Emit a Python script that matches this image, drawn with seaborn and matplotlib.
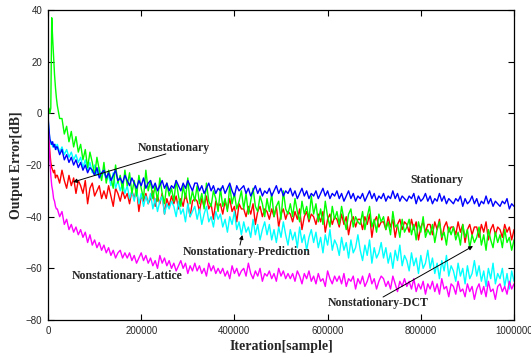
import numpy as np
import pandas as pd
import matplotlib
matplotlib.use("Agg")
import matplotlib.pyplot as plt
import seaborn as sns

# Sample grid: dense at the very start, then every 5000 samples
head_x = [0, 2000, 4000, 6000, 8000, 10000, 12000, 14000, 16000, 18000]
tail_x = list(range(20000, 1000001, 5000))

# Output error [dB]
green_head = [1, 2, 0, 2, 37, 29, 22, 15, 10, 6]
green_tail = [
    3, -2, -2, -8, -5, -11, -7, -13, -9, -15,
    -12, -18, -14, -21, -15, -19, -24, -17, -22, -26,
    -19, -27, -22, -25, -29, -20, -27, -24, -30, -22,
    -28, -23, -31, -26, -32, -24, -29, -33, -22, -30,
    -26, -33, -28, -34, -25, -31, -35, -27, -32, -29,
    -34, -26, -32, -36, -28, -33, -25, -35, -30, -34,
    -28, -35, -31, -37, -27, -34, -36, -30, -33, -38,
    -29, -36, -33, -38, -28, -35, -31, -37, -34, -30,
    -37, -31, -39, -34, -29, -36, -38, -32, -35, -40,
    -33, -38, -31, -40, -36, -34, -41, -30, -37, -39,
    -35, -40, -33, -38, -42, -34, -39, -36, -41, -32,
    -39, -35, -42, -37, -43, -34, -40, -44, -36, -41,
    -38, -43, -36, -41, -45, -39, -37, -44, -40, -42,
    -43, -38, -45, -40, -36, -44, -41, -46, -39, -42,
    -40, -45, -42, -47, -38, -44, -43, -48, -41, -46,
    -44, -41, -47, -43, -49, -42, -46, -40, -48, -45,
    -47, -43, -50, -45, -42, -48, -46, -51, -44, -47,
    -44, -49, -46, -51, -43, -48, -45, -52, -47, -50,
    -48, -44, -51, -47, -53, -45, -49, -52, -46, -50,
    -47, -52, -45, -50, -48, -53, -49,
]

blue_head = [-1, -6, -10, -11, -12, -11, -13, -12, -14, -13]
blue_tail = [
    -13, -16, -14, -18, -16, -19, -17, -20, -18, -21,
    -19, -22, -20, -23, -21, -22, -24, -21, -25, -23,
    -22, -25, -23, -26, -24, -22, -26, -25, -27, -24,
    -26, -28, -25, -27, -29, -26, -28, -25, -29, -27,
    -26, -29, -27, -30, -28, -26, -29, -27, -30, -28,
    -29, -26, -28, -30, -27, -29, -26, -28, -30, -27,
    -27, -30, -28, -31, -29, -27, -30, -28, -31, -29,
    -30, -28, -31, -29, -27, -30, -32, -28, -30, -29,
    -28, -31, -29, -32, -30, -28, -31, -29, -32, -30,
    -31, -29, -32, -30, -28, -31, -29, -32, -30, -31,
    -29, -32, -30, -33, -31, -29, -32, -30, -33, -31,
    -32, -30, -33, -31, -29, -32, -30, -33, -31, -32,
    -30, -33, -31, -34, -32, -30, -33, -31, -34, -32,
    -33, -31, -34, -32, -30, -33, -31, -34, -32, -33,
    -31, -34, -32, -33, -30, -33, -31, -34, -32, -33,
    -34, -32, -33, -31, -35, -32, -34, -33, -31, -34,
    -32, -35, -33, -34, -31, -34, -32, -35, -33, -34,
    -35, -33, -34, -32, -36, -33, -35, -34, -32, -35,
    -33, -36, -34, -35, -32, -35, -33, -36, -34, -35,
    -36, -34, -35, -33, -37, -35, -36,
]

red_head = [-6, -10, -15, -19, -21, -22, -23, -22, -25, -24]
red_tail = [
    -24, -27, -22, -26, -29, -24, -28, -25, -31, -26,
    -28, -31, -26, -35, -29, -27, -32, -30, -28, -33,
    -30, -33, -28, -32, -36, -29, -31, -34, -30, -33,
    -31, -35, -30, -33, -29, -38, -32, -34, -31, -35,
    -33, -30, -36, -32, -35, -31, -39, -33, -36, -32,
    -35, -32, -37, -33, -36, -31, -35, -40, -34, -33,
    -34, -38, -33, -36, -32, -37, -35, -41, -34, -36,
    -35, -39, -34, -37, -33, -38, -36, -42, -35, -37,
    -37, -40, -36, -39, -35, -43, -38, -36, -40, -37,
    -38, -41, -37, -40, -36, -44, -39, -37, -41, -38,
    -39, -42, -38, -41, -37, -45, -40, -38, -42, -39,
    -40, -43, -39, -42, -38, -46, -41, -39, -43, -40,
    -41, -44, -39, -43, -40, -47, -42, -40, -44, -41,
    -41, -45, -40, -43, -39, -48, -42, -40, -44, -42,
    -42, -45, -40, -44, -41, -48, -43, -41, -45, -42,
    -43, -46, -41, -45, -42, -49, -44, -42, -46, -43,
    -43, -47, -42, -45, -41, -49, -44, -42, -46, -44,
    -44, -47, -42, -46, -43, -50, -45, -43, -47, -44,
    -44, -48, -43, -46, -42, -49, -45, -43, -47, -44,
    -45, -48, -43, -46, -44, -49, -45,
]

cyan_head = [-2, -7, -10, -12, -11, -13, -12, -13, -12, -14]
cyan_tail = [
    -12, -15, -13, -16, -14, -17, -15, -18, -16, -19,
    -17, -21, -18, -22, -19, -23, -20, -24, -21, -25,
    -22, -26, -24, -28, -23, -29, -26, -30, -27, -31,
    -28, -33, -30, -34, -29, -35, -31, -36, -32, -35,
    -31, -37, -33, -38, -34, -32, -39, -35, -37, -34,
    -36, -40, -34, -39, -37, -42, -35, -40, -38, -36,
    -41, -37, -43, -39, -36, -42, -40, -44, -38, -41,
    -39, -44, -41, -46, -40, -43, -38, -45, -42, -47,
    -42, -46, -44, -48, -41, -47, -43, -49, -45, -42,
    -47, -43, -49, -45, -50, -44, -48, -42, -47, -51,
    -45, -49, -46, -52, -44, -50, -47, -53, -48, -45,
    -50, -46, -52, -48, -54, -47, -51, -45, -53, -49,
    -51, -55, -48, -53, -50, -56, -49, -54, -52, -47,
    -53, -57, -51, -55, -49, -58, -52, -56, -54, -50,
    -56, -52, -58, -54, -60, -53, -57, -51, -59, -55,
    -57, -61, -54, -59, -56, -62, -55, -60, -58, -53,
    -60, -56, -62, -58, -64, -57, -61, -55, -63, -59,
    -61, -65, -58, -63, -60, -66, -59, -64, -62, -57,
    -63, -59, -65, -61, -67, -60, -64, -58, -66, -62,
    -64, -60, -67, -62, -68, -61, -65,
]

magenta_head = [-4, -10, -18, -24, -28, -30, -33, -34, -36, -37]
magenta_tail = [
    -37, -40, -38, -43, -41, -45, -43, -46, -44, -47,
    -45, -48, -46, -50, -47, -51, -49, -52, -50, -53,
    -51, -54, -52, -55, -53, -56, -54, -53, -56, -54,
    -56, -54, -57, -55, -58, -56, -54, -57, -55, -58,
    -56, -59, -57, -60, -55, -58, -56, -59, -57, -60,
    -58, -61, -59, -57, -60, -58, -62, -59, -61, -58,
    -61, -59, -62, -60, -63, -58, -61, -59, -62, -60,
    -62, -60, -63, -61, -64, -59, -62, -60, -63, -61,
    -60, -63, -58, -62, -64, -61, -63, -60, -65, -62,
    -63, -61, -64, -62, -65, -60, -63, -61, -64, -62,
    -64, -62, -65, -61, -63, -66, -62, -64, -61, -65,
    -63, -66, -62, -65, -64, -67, -61, -64, -66, -63,
    -65, -63, -66, -62, -67, -64, -65, -63, -68, -64,
    -66, -63, -67, -65, -62, -66, -64, -68, -65, -63,
    -64, -67, -65, -68, -63, -66, -69, -65, -67, -64,
    -67, -65, -68, -64, -69, -66, -68, -65, -70, -66,
    -68, -65, -69, -66, -70, -64, -68, -67, -71, -66,
    -67, -70, -65, -69, -68, -71, -66, -69, -67, -72,
    -68, -66, -70, -67, -71, -65, -69, -68, -72, -67,
    -66, -69, -67, -70, -65, -68, -66,
]

# Build one long table (drawing order: red, cyan, green, blue, magenta)
series = [
    ("Nonstationary", red_head + red_tail, "#ff0000"),
    ("Nonstationary-Prediction", cyan_head + cyan_tail, "#00ffff"),
    ("Nonstationary-DCT", green_head + green_tail, "#00ff00"),
    ("Stationary", blue_head + blue_tail, "#0000ff"),
    ("Nonstationary-Lattice", magenta_head + magenta_tail, "#ff00ff"),
]
all_x = head_x + tail_x
frames = []
for name, vals, _ in series:
    n = min(len(vals), len(all_x))
    frames.append(pd.DataFrame({"iteration": all_x[:n], "error": vals[:n], "curve": name}))
df = pd.concat(frames, ignore_index=True)
palette = {name: color for name, _, color in series}

sns.set_style("ticks")
plt.rcParams["font.family"] = ["Liberation Sans", "DejaVu Sans"]

fig = plt.figure(figsize=(5.31, 3.58), dpi=100)
ax = fig.add_axes([0.0904, 0.1061, 0.8776, 0.8659])

sns.lineplot(data=df, x="iteration", y="error", hue="curve", palette=palette,
             hue_order=[s[0] for s in series], lw=1.0, legend=False,
             estimator=None, sort=False, ax=ax)

ax.set_xlim(0, 1000000)
ax.set_ylim(-80, 40)
ax.set_xticks(range(0, 1000001, 200000))
ax.set_xticklabels([str(v) for v in range(0, 1000001, 200000)])
ax.set_yticks(range(-80, 41, 20))
ax.tick_params(direction="in", length=4, width=0.8, labelsize=7,
               top=True, right=True, color="black", pad=4)
for sp in ax.spines.values():
    sp.set_visible(True)
    sp.set_linewidth(0.9)
    sp.set_color("black")

serif = dict(family="Liberation Serif", fontweight="bold")
ax.set_xlabel("Iteration[sample]", fontsize=10, labelpad=3, **serif)
ax.set_ylabel("Output Error[dB]", fontsize=10, labelpad=2, **serif)

# Curve labels
ax.text(270000, -13.5, "Nonstationary", fontsize=8.5, ha="center", va="center", **serif)
ax.text(835000, -25.8, "Stationary", fontsize=8.5, ha="center", va="center", **serif)
ax.text(426000, -53.7, "Nonstationary-Prediction", fontsize=8.5, ha="center", va="center", **serif)
ax.text(170600, -63, "Nonstationary-Lattice", fontsize=8.5, ha="center", va="center", **serif)
ax.text(709000, -73.4, "Nonstationary-DCT", fontsize=8.5, ha="center", va="center", **serif)

# Arrows pointing at the curves
arrow = dict(arrowstyle="-|>", lw=0.7, color="black", mutation_scale=6, shrinkA=0, shrinkB=0)
ax.annotate("", xy=(53600, -26.6), xytext=(253000, -15.7), arrowprops=arrow)
ax.annotate("", xy=(417000, -47.1), xytext=(412000, -51), arrowprops=arrow)
ax.annotate("", xy=(912000, -51.4), xytext=(719000, -71.1), arrowprops=arrow)

fig.savefig("out.png", dpi=100)
